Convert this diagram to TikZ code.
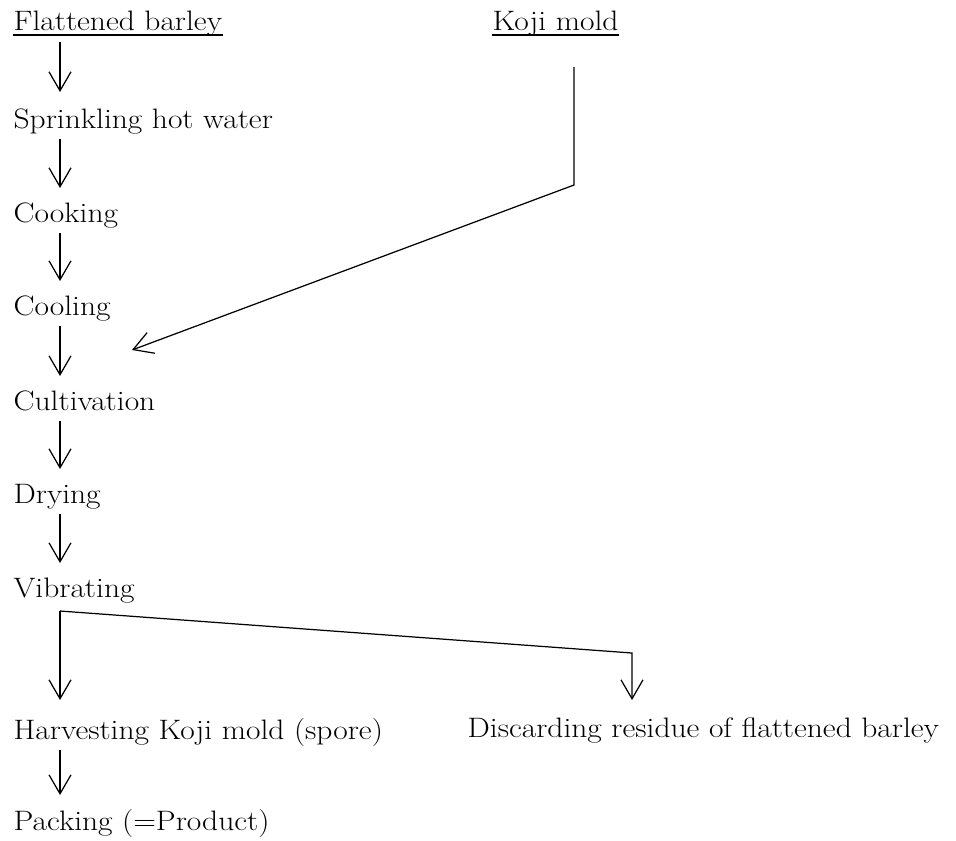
\documentclass[tikz,border=0pt]{standalone}
\usepackage{fontspec}
\setmainfont{Latin Modern Roman}[FakeStretch=1.12]
\usetikzlibrary{arrows.meta}
\begin{document}
\begin{tikzpicture}[x=0.02cm, y=-0.02cm, line width=0.7pt,
  stage node/.style={anchor=base west, inner sep=0pt, font=\fontsize{16}{19}\selectfont},
  flow/.style={-{Straight Barb[length=0.38cm, width=0.44cm]}}]
\useasboundingbox (0,0) rectangle (956,840);

\node[stage node](1) at (13,30) {Flattened barley};
\node[stage node](2) at (13,128) {Sprinkling hot water};
\node[stage node](3) at (13,222) {Cooking};
\node[stage node](4) at (13,315) {Cooling};
\node[stage node](5) at (13,410) {Cultivation};
\node[stage node](6) at (13,503) {Drying};
\node[stage node](7) at (13,597) {Vibrating};
\node[stage node](8) at (13,739) {Harvesting Koji mold (spore)};
\node[stage node](9) at (467,737) {Discarding residue of flattened barley};
\node[stage node](10) at (13,830) {Packing (=Product)};
\node[stage node](11) at (492,30) {Koji mold};

% underlined inputs
\draw ([shift={(0,5)}]1.base west) -- ([shift={(0,5)}]1.base east);
\draw ([shift={(0,5)}]11.base west) -- ([shift={(0,5)}]11.base east);

% main line
\draw[flow] ([shift={(47,12)}]1.base west) -- ([shift={(47,-36)}]2.base west);
\draw[flow] ([shift={(47,11)}]2.base west) -- ([shift={(47,-34)}]3.base west);
\draw[flow] ([shift={(47,11)}]3.base west) -- ([shift={(47,-34)}]4.base west);
\draw[flow] ([shift={(47,11)}]4.base west) -- ([shift={(47,-34)}]5.base west);
\draw[flow] ([shift={(47,11)}]5.base west) -- ([shift={(47,-34)}]6.base west);
\draw[flow] ([shift={(47,11)}]6.base west) -- ([shift={(47,-34)}]7.base west);
\draw[flow] ([shift={(47,11)}]8.base west) -- ([shift={(47,-35)}]10.base west);

% koji mold added after cooling
\coordinate (kb) at (574,185);
\coordinate (kc) at (132,350);
\draw[flow] ([shift={(82,37)}]11.base west) -- (kb) -- (kc);

% split after vibrating
\coordinate (r) at (632,653);
\draw[flow] ([shift={(47,14)}]7.base west) coordinate (s) -- ([shift={(47,-39)}]8.base west);
\draw[flow] (s) -- (r) -- ([shift={(165,-37)}]9.base west);

\end{tikzpicture}
\end{document}
